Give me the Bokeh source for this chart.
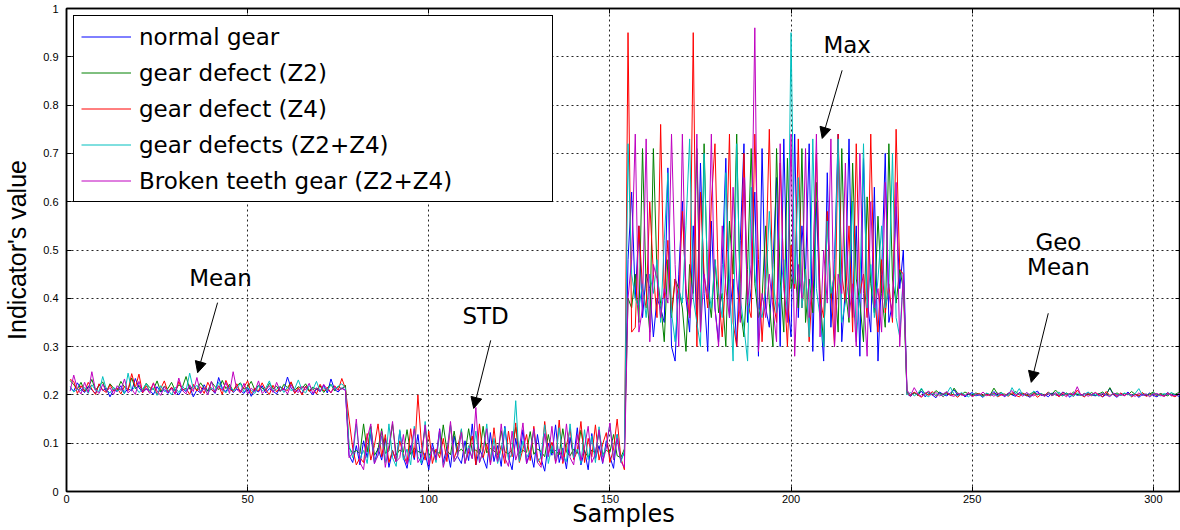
import numpy as np
from bokeh.plotting import figure
from bokeh.models import (Range1d, FixedTicker, CustomJSTickFormatter, Legend, LegendItem,
                          Arrow, NormalHead, Label, LinearAxis)
from bokeh.embed import file_html
from bokeh.resources import INLINE

# ---------------- data ----------------
series_names = ["normal gear", "gear defect (Z2)", "gear defect (Z4)",
                "gear defects (Z2+Z4)", "Broken teeth gear (Z2+Z4)"]
series_colors = ["#0000FF", "#008000", "#FF0000", "#00BFBF", "#BF00BF"]
segment_names = ["Mean", "STD", "Max", "Geo Mean"]
segment_starts = [1, 78, 155, 232]
x_ticks = [0, 50, 100, 150, 200, 250, 300]
y_ticks = [0, 0.1, 0.2, 0.3, 0.4, 0.5, 0.6, 0.7, 0.8, 0.9, 1]

normal_mean = [0.215,0.208,0.225,0.212,0.205,0.218,0.210,0.203,0.222,0.209,
               0.214,0.196,0.211,0.207,0.219,0.204,0.213,0.208,0.234,0.215,
               0.205,0.212,0.209,0.201,0.217,0.206,0.211,0.203,0.215,0.209,
               0.200,0.213,0.207,0.218,0.196,0.210,0.204,0.221,0.208,0.212,
               0.203,0.236,0.214,0.207,0.219,0.205,0.212,0.209,0.203,0.215,
               0.197,0.211,0.206,0.219,0.204,0.213,0.208,0.202,0.216,0.210,
               0.237,0.214,0.205,0.211,0.203,0.218,0.209,0.200,0.213,0.207,
               0.220,0.204,0.233,0.211,0.206,0.215,0.209]
z2_mean = [0.230,0.221,0.212,0.226,0.208,0.215,0.232,0.210,0.219,0.227,
           0.206,0.223,0.214,0.209,0.228,0.216,0.211,0.235,0.213,0.220,
           0.208,0.224,0.215,0.211,0.229,0.207,0.218,0.213,0.226,0.209,
           0.221,0.216,0.238,0.212,0.219,0.210,0.225,0.214,0.208,0.227,
           0.217,0.211,0.230,0.213,0.222,0.208,0.219,0.225,0.212,0.216,
           0.228,0.210,0.220,0.214,0.209,0.224,0.213,0.218,0.207,0.222,
           0.215,0.226,0.210,0.217,0.213,0.223,0.209,0.216,0.211,0.219,
           0.205,0.214,0.222,0.208,0.218,0.212,0.220]
z4_mean = [0.232,0.228,0.203,0.219,0.207,0.226,0.212,0.201,0.223,0.210,
           0.205,0.221,0.208,0.214,0.202,0.218,0.209,0.244,0.215,0.243,
           0.204,0.219,0.207,0.225,0.200,0.213,0.229,0.206,0.216,0.202,
           0.228,0.209,0.214,0.201,0.222,0.208,0.217,0.203,0.226,0.211,
           0.206,0.219,0.201,0.230,0.212,0.207,0.223,0.204,0.216,0.229,
           0.203,0.214,0.208,0.225,0.210,0.201,0.220,0.206,0.217,0.212,
           0.209,0.227,0.203,0.215,0.200,0.218,0.207,0.213,0.202,0.222,
           0.208,0.216,0.204,0.219,0.210,0.234,0.213]
z2z4_mean = [0.218,0.206,0.212,0.209,0.215,0.203,0.221,0.210,0.207,0.238,
             0.211,0.204,0.216,0.208,0.213,0.202,0.245,0.209,0.217,0.205,
             0.212,0.223,0.208,0.214,0.199,0.219,0.207,0.211,0.200,0.216,
             0.205,0.218,0.209,0.245,0.212,0.220,0.207,0.213,0.202,0.215,
             0.208,0.226,0.211,0.204,0.217,0.209,0.213,0.224,0.206,0.215,
             0.210,0.203,0.219,0.208,0.214,0.229,0.207,0.212,0.218,0.205,
             0.216,0.209,0.213,0.231,0.210,0.204,0.219,0.211,0.228,0.207,
             0.215,0.209,0.221,0.212,0.218,0.223,0.214]
broken_mean = [0.208,0.241,0.213,0.202,0.226,0.205,0.248,0.210,0.203,0.222,
               0.207,0.215,0.201,0.219,0.209,0.233,0.204,0.212,0.201,0.228,
               0.206,0.214,0.203,0.224,0.208,0.199,0.217,0.205,0.213,0.201,
               0.235,0.209,0.202,0.221,0.207,0.236,0.203,0.215,0.200,0.228,
               0.205,0.218,0.209,0.226,0.203,0.248,0.211,0.205,0.224,0.202,
               0.214,0.207,0.229,0.203,0.210,0.219,0.205,0.226,0.208,0.213,
               0.202,0.221,0.209,0.205,0.218,0.210,0.224,0.203,0.215,0.207,
               0.222,0.211,0.205,0.217,0.209,0.213,0.210]

normal_std = [0.075,0.060,0.095,0.055,0.105,0.070,0.120,0.058,0.090,0.065,
              0.110,0.050,0.085,0.062,0.125,0.070,0.048,0.095,0.066,0.118,
              0.055,0.080,0.045,0.100,0.068,0.130,0.060,0.092,0.050,0.115,
              0.072,0.058,0.105,0.064,0.140,0.055,0.088,0.070,0.048,0.122,
              0.062,0.095,0.052,0.135,0.070,0.045,0.110,0.066,0.128,0.058,
              0.085,0.050,0.118,0.068,0.042,0.100,0.075,0.138,0.060,0.090,
              0.047,0.112,0.070,0.132,0.055,0.085,0.045,0.120,0.068,0.095,
              0.058,0.105,0.072,0.048,0.118,0.065,0.080]
z2_std = [0.090,0.080,0.085,0.078,0.140,0.082,0.135,0.075,0.088,0.130,
          0.079,0.084,0.140,0.076,0.086,0.081,0.128,0.077,0.090,0.083,
          0.080,0.132,0.074,0.087,0.082,0.079,0.138,0.085,0.076,0.125,
          0.081,0.088,0.078,0.130,0.083,0.086,0.077,0.135,0.080,0.089,
          0.084,0.076,0.126,0.082,0.078,0.087,0.133,0.079,0.085,0.081,
          0.124,0.077,0.088,0.083,0.072,0.118,0.080,0.085,0.076,0.130,
          0.082,0.074,0.088,0.079,0.127,0.083,0.071,0.086,0.080,0.124,
          0.077,0.085,0.081,0.118,0.074,0.070,0.088]
z4_std = [0.150,0.090,0.055,0.070,0.060,0.120,0.065,0.095,0.140,0.072,
          0.118,0.060,0.085,0.062,0.105,0.075,0.058,0.130,0.070,0.200,
          0.095,0.065,0.125,0.058,0.088,0.070,0.110,0.062,0.138,0.068,
          0.092,0.128,0.060,0.082,0.115,0.055,0.140,0.070,0.098,0.060,
          0.132,0.066,0.095,0.058,0.125,0.072,0.142,0.060,0.088,0.118,
          0.064,0.135,0.070,0.055,0.145,0.078,0.102,0.062,0.148,0.058,
          0.095,0.130,0.066,0.084,0.145,0.060,0.110,0.072,0.138,0.065,
          0.098,0.122,0.060,0.088,0.150,0.070,0.045]
z2z4_std = [0.095,0.070,0.140,0.068,0.085,0.058,0.130,0.062,0.075,0.115,
            0.060,0.140,0.070,0.052,0.128,0.065,0.088,0.055,0.135,0.072,
            0.058,0.145,0.066,0.090,0.060,0.120,0.054,0.080,0.138,0.062,
            0.075,0.130,0.058,0.095,0.068,0.125,0.060,0.082,0.140,0.064,
            0.110,0.058,0.088,0.132,0.066,0.078,0.188,0.062,0.105,0.070,
            0.085,0.125,0.060,0.072,0.138,0.058,0.095,0.066,0.132,0.075,
            0.062,0.140,0.070,0.088,0.058,0.128,0.066,0.115,0.060,0.134,
            0.072,0.095,0.140,0.066,0.118,0.060,0.085]
broken_std = [0.070,0.080,0.150,0.060,0.045,0.110,0.140,0.058,0.075,0.125,
              0.050,0.095,0.145,0.062,0.070,0.118,0.056,0.085,0.130,0.060,
              0.072,0.138,0.055,0.090,0.065,0.128,0.050,0.080,0.145,0.062,
              0.075,0.122,0.058,0.090,0.068,0.174,0.060,0.085,0.130,0.055,
              0.095,0.062,0.140,0.070,0.052,0.125,0.065,0.090,0.142,0.058,
              0.078,0.130,0.060,0.050,0.120,0.072,0.135,0.058,0.088,0.062,
              0.140,0.070,0.055,0.118,0.064,0.092,0.135,0.060,0.078,0.128,
              0.060,0.090,0.142,0.066,0.110,0.062,0.050]

normal_max = [0.48,0.62,0.40,0.55,0.36,0.45,0.42,0.32,0.40,0.38,
              0.35,0.67,0.30,0.27,0.45,0.60,0.40,0.33,0.55,0.34,
              0.68,0.41,0.29,0.56,0.38,0.31,0.47,0.69,0.36,0.44,
              0.30,0.52,0.72,0.35,0.42,0.62,0.28,0.71,0.38,0.34,
              0.47,0.65,0.30,0.73,0.40,0.32,0.74,0.36,0.55,0.45,
              0.72,0.29,0.60,0.38,0.27,0.66,0.34,0.48,0.74,0.31,
              0.42,0.73,0.36,0.55,0.28,0.69,0.40,0.33,0.63,0.27,
              0.45,0.70,0.35,0.39,0.59,0.42,0.50]
z2_max = [0.40,0.38,0.45,0.35,0.71,0.42,0.33,0.71,0.45,0.39,
          0.31,0.48,0.36,0.44,0.42,0.38,0.29,0.47,0.41,0.71,
          0.33,0.72,0.42,0.36,0.48,0.37,0.41,0.30,0.56,0.45,
          0.74,0.38,0.32,0.46,0.71,0.43,0.36,0.40,0.55,0.39,
          0.30,0.71,0.44,0.33,0.69,0.42,0.46,0.38,0.71,0.35,
          0.44,0.37,0.64,0.41,0.30,0.57,0.40,0.45,0.33,0.71,
          0.42,0.35,0.68,0.44,0.39,0.31,0.61,0.43,0.37,0.57,
          0.41,0.34,0.72,0.44,0.39,0.46,0.42]
z4_max = [0.95,0.33,0.34,0.55,0.42,0.38,0.60,0.45,0.36,0.76,
          0.40,0.52,0.37,0.44,0.40,0.58,0.42,0.36,0.95,0.30,
          0.62,0.45,0.38,0.60,0.72,0.41,0.32,0.45,0.74,0.35,
          0.30,0.43,0.70,0.39,0.36,0.74,0.48,0.31,0.45,0.75,
          0.40,0.35,0.68,0.44,0.30,0.51,0.42,0.73,0.38,0.46,
          0.31,0.44,0.70,0.40,0.36,0.58,0.42,0.30,0.74,0.45,
          0.39,0.55,0.33,0.72,0.41,0.45,0.36,0.74,0.40,0.33,
          0.48,0.37,0.43,0.35,0.75,0.46,0.45]
z2z4_max = [0.72,0.45,0.40,0.38,0.43,0.36,0.45,0.41,0.48,0.35,
            0.52,0.66,0.37,0.31,0.42,0.39,0.55,0.73,0.40,0.35,
            0.30,0.70,0.43,0.38,0.48,0.41,0.36,0.66,0.44,0.27,
            0.72,0.40,0.34,0.27,0.63,0.45,0.38,0.36,0.42,0.58,
            0.44,0.37,0.40,0.48,0.36,0.95,0.43,0.65,0.38,0.46,
            0.32,0.73,0.42,0.36,0.30,0.56,0.41,0.45,0.73,0.35,
            0.39,0.44,0.60,0.31,0.42,0.72,0.38,0.47,0.36,0.44,
            0.55,0.38,0.42,0.70,0.36,0.32,0.45]
broken_max = [0.40,0.48,0.74,0.33,0.38,0.73,0.31,0.47,0.44,0.36,
              0.42,0.39,0.74,0.47,0.30,0.74,0.41,0.36,0.43,0.74,
              0.33,0.45,0.40,0.74,0.38,0.30,0.55,0.42,0.36,0.63,
              0.44,0.35,0.65,0.39,0.47,0.96,0.29,0.41,0.36,0.45,
              0.38,0.31,0.72,0.42,0.35,0.74,0.28,0.47,0.40,0.71,
              0.36,0.44,0.74,0.32,0.50,0.39,0.73,0.30,0.45,0.41,
              0.68,0.36,0.43,0.30,0.70,0.41,0.28,0.60,0.38,0.42,
              0.33,0.64,0.41,0.36,0.64,0.30,0.45]

normal_geo = [0.202,0.197,0.205,0.199,0.208,0.196,0.203,0.200,0.194,0.206,
              0.201,0.198,0.204,0.211,0.199,0.203,0.196,0.201,0.205,0.198,
              0.200,0.195,0.203,0.199,0.207,0.198,0.202,0.196,0.204,0.200,
              0.197,0.205,0.201,0.199,0.195,0.203,0.208,0.199,0.201,0.196,
              0.204,0.200,0.198,0.206,0.202,0.195,0.203,0.199,0.201,0.197,
              0.205,0.200,0.198,0.203,0.196,0.201,0.214,0.200,0.195,0.203,
              0.199,0.206,0.197,0.202,0.195,0.201,0.198,0.204,0.199,0.196,
              0.202,0.199,0.205,0.198,0.201,0.197,0.203]
z2_geo = [0.205,0.201,0.204,0.199,0.212,0.202,0.206,0.200,0.209,0.203,
          0.201,0.205,0.199,0.214,0.203,0.200,0.206,0.202,0.199,0.204,
          0.201,0.198,0.203,0.200,0.214,0.202,0.205,0.199,0.203,0.201,
          0.207,0.200,0.204,0.198,0.202,0.206,0.200,0.203,0.199,0.205,
          0.201,0.210,0.202,0.198,0.204,0.200,0.206,0.201,0.199,0.203,
          0.200,0.205,0.199,0.202,0.206,0.200,0.215,0.201,0.204,0.199,
          0.203,0.200,0.207,0.201,0.198,0.204,0.200,0.202,0.206,0.199,
          0.203,0.200,0.198,0.204,0.201,0.205,0.200]
z4_geo = [0.203,0.198,0.206,0.200,0.195,0.204,0.199,0.207,0.197,0.202,
          0.196,0.204,0.199,0.201,0.195,0.203,0.198,0.205,0.197,0.200,
          0.203,0.197,0.201,0.198,0.204,0.196,0.200,0.202,0.197,0.205,
          0.199,0.196,0.203,0.200,0.197,0.204,0.195,0.201,0.199,0.206,
          0.198,0.202,0.196,0.205,0.199,0.203,0.197,0.210,0.200,0.196,
          0.203,0.198,0.205,0.200,0.196,0.207,0.199,0.202,0.197,0.204,
          0.199,0.203,0.196,0.201,0.198,0.205,0.197,0.200,0.203,0.198,
          0.201,0.197,0.204,0.199,0.196,0.202,0.198]
z2z4_geo = [0.200,0.205,0.198,0.203,0.214,0.200,0.196,0.204,0.199,0.202,
            0.197,0.203,0.216,0.201,0.198,0.205,0.200,0.196,0.203,0.199,
            0.201,0.196,0.204,0.199,0.202,0.197,0.205,0.200,0.198,0.215,
            0.202,0.213,0.199,0.204,0.198,0.208,0.201,0.203,0.197,0.205,
            0.199,0.202,0.206,0.198,0.203,0.200,0.197,0.204,0.199,0.201,
            0.206,0.199,0.202,0.197,0.204,0.200,0.198,0.203,0.201,0.199,
            0.204,0.201,0.198,0.203,0.213,0.199,0.202,0.197,0.204,0.200,
            0.198,0.203,0.200,0.205,0.199,0.202,0.206]
broken_geo = [0.210,0.199,0.215,0.202,0.197,0.203,0.208,0.199,0.205,0.198,
              0.202,0.207,0.199,0.197,0.204,0.200,0.198,0.205,0.196,0.202,
              0.199,0.206,0.198,0.202,0.197,0.204,0.200,0.198,0.203,0.209,
              0.199,0.203,0.197,0.205,0.200,0.198,0.204,0.201,0.197,0.203,
              0.199,0.205,0.198,0.202,0.196,0.204,0.200,0.217,0.199,0.203,
              0.197,0.201,0.205,0.198,0.203,0.200,0.196,0.204,0.199,0.201,
              0.198,0.203,0.200,0.197,0.204,0.199,0.202,0.196,0.201,0.203,
              0.199,0.197,0.202,0.200,0.198,0.203,0.201]

series_segments = [
    [normal_mean, normal_std, normal_max, normal_geo],
    [z2_mean, z2_std, z2_max, z2_geo],
    [z4_mean, z4_std, z4_max, z4_geo],
    [z2z4_mean, z2z4_std, z2z4_max, z2z4_geo],
    [broken_mean, broken_std, broken_max, broken_geo],
]

# ---------------- figure ----------------
FONT = "Liberation Sans"
WIDE = "DejaVu Sans"
p = figure(width=1180, height=530, output_backend="svg", toolbar_location=None,
           x_range=Range1d(0, 307.5), y_range=Range1d(0, 1),
           min_border_top=8, min_border_right=0, min_border_left=0, min_border_bottom=0)
p.background_fill_color = "white"
p.border_fill_color = "white"
p.outline_line_color = "black"
p.outline_line_width = 1.5
p.outline_line_alpha = 1

items = []
for name, color, segs in zip(series_names, series_colors, series_segments):
    xs = np.concatenate([start + np.arange(len(s)) for start, s in zip(segment_starts, segs)])
    ys = np.concatenate([np.asarray(s, dtype=float) for s in segs])
    r = p.line(xs, ys, line_color=color, line_width=1)
    items.append(LegendItem(label=name, renderers=[r]))

bottom_axis = p.below[0]
left_axis = p.left[0]

# mirror axes (ticks only) on top and right, as in the original box style
blank = CustomJSTickFormatter(code="return '';")
top_axis = LinearAxis(ticker=FixedTicker(ticks=x_ticks), formatter=blank)
right_axis = LinearAxis(ticker=FixedTicker(ticks=y_ticks), formatter=blank)
for ax in (top_axis, right_axis):
    ax.major_label_standoff = 0
    ax.major_label_text_font_size = "1px"
p.add_layout(top_axis, "above")
p.add_layout(right_axis, "right")

# axes
bottom_axis.ticker = FixedTicker(ticks=x_ticks)
left_axis.ticker = FixedTicker(ticks=y_ticks)
left_axis.formatter = CustomJSTickFormatter(code="return tick.toFixed(1).replace(/\\.0$/, '');")
for ax in (bottom_axis, left_axis, top_axis, right_axis):
    ax.major_tick_in = 5
    ax.major_tick_out = 0
    ax.minor_tick_in = 0
    ax.minor_tick_out = 0
    ax.axis_line_width = 1.5
    ax.axis_line_color = "black"
    ax.major_tick_line_color = "black"
for ax in (bottom_axis, left_axis):
    ax.major_label_text_font = FONT
    ax.major_label_text_font_size = "11px"
    ax.major_label_text_color = "black"
    ax.axis_label_text_font_style = "normal"
    ax.axis_label_text_color = "black"
bottom_axis.major_label_standoff = 3
bottom_axis.axis_label = "Samples"
bottom_axis.axis_label_text_font = WIDE
bottom_axis.axis_label_text_font_size = "24px"
bottom_axis.axis_label_standoff = -6
left_axis.major_label_standoff = 8
left_axis.axis_label = "Indicator's value"
left_axis.axis_label_text_font = FONT
left_axis.axis_label_text_font_size = "25px"
left_axis.axis_label_standoff = 9

# grid
for g in (p.xgrid[0], p.ygrid[0]):
    g.grid_line_color = "black"
    g.grid_line_dash = "2 3"
    g.grid_line_width = 1
    g.grid_line_alpha = 0.85

# legend
legend = Legend(items=items, location="top_left", margin=7, padding=7, spacing=9,
                label_height=27, glyph_height=27, glyph_width=50, label_standoff=8,
                label_width=406, label_text_font=WIDE, label_text_font_size="23px",
                label_text_color="black",
                border_line_color="black", border_line_width=1.5, border_line_alpha=1,
                background_fill_color="white", background_fill_alpha=1)
p.add_layout(legend)

# annotations
def add_note(text, x, y):
    p.add_layout(Label(x=x, y=y, text=text, text_align="center", text_baseline="middle",
                       text_font=WIDE, text_font_size="23px", text_color="black"))

def add_arrow(x0, y0, x1, y1):
    p.add_layout(Arrow(x_start=x0, y_start=y0, x_end=x1, y_end=y1, line_color="black",
                       line_width=1,
                       end=NormalHead(size=11, fill_color="black", line_color="black")))

add_note("Mean", 42.5, 0.443)
add_arrow(41.7, 0.391, 36.2, 0.246)
add_note("STD", 115.7, 0.364)
add_arrow(117.1, 0.313, 112.4, 0.172)
add_note("Max", 215.5, 0.925)
add_arrow(214.1, 0.872, 208.6, 0.731)
add_note("Geo", 273.8, 0.516)
add_note("Mean", 273.8, 0.464)
add_arrow(271.0, 0.369, 266.3, 0.226)

open("out.html", "w").write(file_html(p, INLINE))
